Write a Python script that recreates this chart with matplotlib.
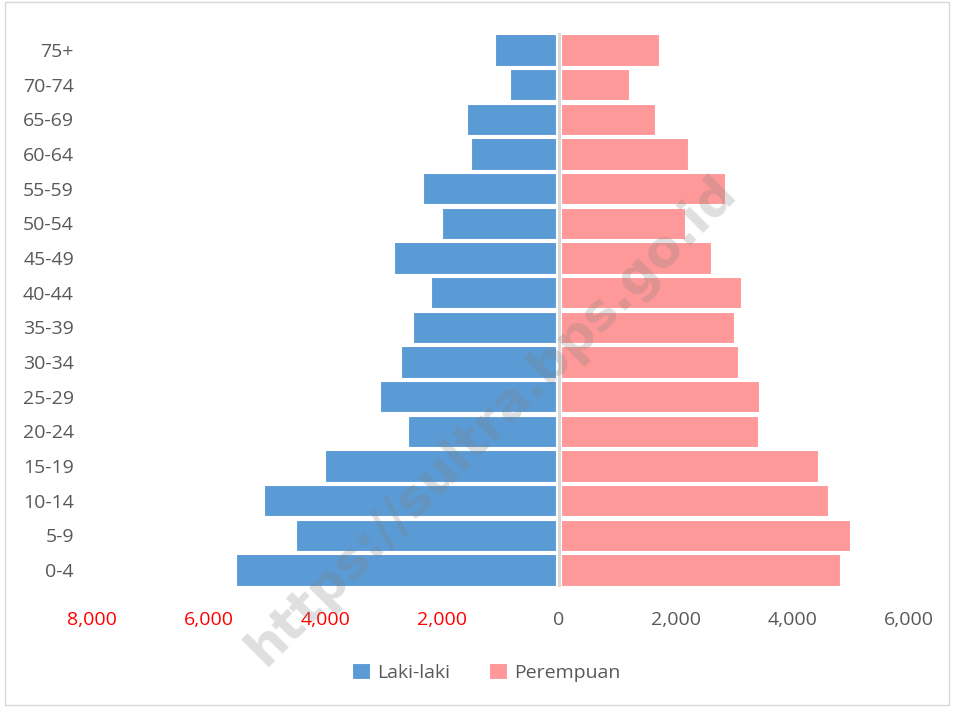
import matplotlib.pyplot as plt
import numpy as np
from matplotlib.patches import Rectangle

plt.rcParams['font.family'] = ['Open Sans', 'DejaVu Sans']

kelompok_umur = ['0-4', '5-9', '10-14', '15-19', '20-24', '25-29', '30-34', '35-39',
                 '40-44', '45-49', '50-54', '55-59', '60-64', '65-69', '70-74', '75+']
laki_laki = [5480, 4460, 5000, 3970, 2540, 3020, 2660, 2450,
             2150, 2780, 1960, 2290, 1460, 1530, 790, 1050]
perempuan = [4780, 4950, 4570, 4400, 3360, 3390, 3030, 2950,
             3080, 2570, 2110, 2810, 2170, 1610, 1160, 1680]
xticks = [-8000, -6000, -4000, -2000, 0, 2000, 4000, 6000]

biru = '#5B9BD5'
merah_muda = '#FF9999'
abu = '#595959'

fig = plt.figure(figsize=(9.54, 7.07), dpi=100)
ax = fig.add_axes([0.0964, 0.1693, 0.8564, 0.7844])

y = np.arange(len(kelompok_umur))
ax.barh(y, [-v for v in laki_laki], height=0.9, left=-45, color=biru,
        edgecolor='white', linewidth=0.8, label='Laki-laki', zorder=2)
ax.barh(y, perempuan, height=0.9, left=45, color=merah_muda,
        edgecolor='white', linewidth=0.8, label='Perempuan', zorder=2)
ax.axvline(0, color='#D9D9D9', linewidth=2.2, zorder=3)

ax.set_xlim(-8000, 6000)
ax.set_ylim(-0.5, len(kelompok_umur) - 0.5)
ax.set_yticks(y)
ax.set_yticklabels(kelompok_umur, fontsize=14, color=abu)
ax.set_xticks(xticks)
ax.set_xticklabels([f'{abs(v):,}' for v in xticks], fontsize=14)
for lbl, v in zip(ax.get_xticklabels(), xticks):
    lbl.set_color('red' if v < 0 else abu)
ax.tick_params(axis='x', length=0, pad=17)
ax.tick_params(axis='y', length=0, pad=13)
for s in ax.spines.values():
    s.set_visible(False)

fig.legend(loc='center', bbox_to_anchor=(0.51, 0.049), ncol=2, frameon=False,
           fontsize=14, handlelength=0.9, handleheight=0.9, handletextpad=0.4,
           columnspacing=2.0, labelcolor=abu)

# watermark
fig.text(0.515, 0.405, 'https://sultra.bps.go.id', fontsize=37, fontweight='bold',
         color='#7F7F7F', alpha=0.25, rotation=45, ha='center', va='center',
         family='DejaVu Sans', zorder=10)

fig.patches.append(Rectangle((0.005, 0.003), 0.99, 0.994, transform=fig.transFigure,
                             fill=False, edgecolor='#D9D9D9', linewidth=1))

fig.savefig('out.png', dpi=100)
